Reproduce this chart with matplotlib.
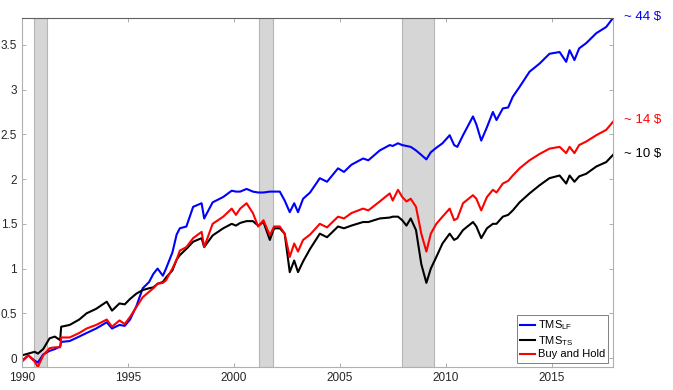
import matplotlib
matplotlib.use("Agg")
import matplotlib.pyplot as plt
from matplotlib.ticker import FuncFormatter

# decimal years
dates = [1990.0, 1990.3, 1990.6, 1990.75, 1991.0, 1991.3, 1991.55, 1991.8, 1991.85, 1992.25,
         1992.7, 1993.05, 1993.5, 1994.0, 1994.25, 1994.6, 1994.85, 1995.1, 1995.4, 1995.7,
         1996.0, 1996.2, 1996.4, 1996.65, 1996.8, 1997.1, 1997.3, 1997.45, 1997.76, 1998.08,
         1998.48, 1998.6, 1999.0, 1999.5, 1999.9, 2000.1, 2000.3, 2000.6, 2000.9, 2001.15,
         2001.4, 2001.7, 2001.9, 2002.17, 2002.4, 2002.64, 2002.85, 2003.03, 2003.27, 2003.6,
         2004.06, 2004.4, 2004.92, 2005.2, 2005.55, 2006.1, 2006.35, 2006.89, 2007.36, 2007.5,
         2007.75, 2007.95, 2008.15, 2008.35, 2008.6, 2008.85, 2009.09, 2009.3, 2009.56, 2009.85,
         2010.19, 2010.4, 2010.55, 2010.82, 2011.29, 2011.45, 2011.68, 2011.95, 2012.23, 2012.4,
         2012.7, 2012.95, 2013.17, 2013.49, 2013.96, 2014.43, 2014.9, 2015.38, 2015.69, 2015.85,
         2016.08, 2016.3, 2016.64, 2017.11, 2017.58, 2017.9]

tms_lf = [-0.03, 0.03, -0.03, -0.05, 0.04, 0.08, 0.10, 0.13, 0.18, 0.19,
          0.24, 0.28, 0.33, 0.40, 0.33, 0.37, 0.36, 0.43, 0.58, 0.78,
          0.85, 0.94, 1.00, 0.92, 1.00, 1.18, 1.38, 1.45, 1.47, 1.69,
          1.73, 1.56, 1.74, 1.80, 1.87, 1.86, 1.86, 1.89, 1.86, 1.85,
          1.85, 1.86, 1.86, 1.86, 1.76, 1.63, 1.73, 1.63, 1.78, 1.85,
          2.01, 1.97, 2.12, 2.08, 2.16, 2.23, 2.21, 2.32, 2.38, 2.37,
          2.40, 2.38, 2.37, 2.36, 2.32, 2.27, 2.22, 2.30, 2.35, 2.40,
          2.49, 2.38, 2.36, 2.49, 2.70, 2.61, 2.43, 2.58, 2.75, 2.66,
          2.79, 2.80, 2.92, 3.03, 3.20, 3.29, 3.40, 3.42, 3.31, 3.44,
          3.33, 3.46, 3.52, 3.63, 3.70, 3.80]

tms_ts = [0.03, 0.05, 0.07, 0.05, 0.10, 0.22, 0.24, 0.20, 0.35, 0.37,
          0.43, 0.50, 0.55, 0.63, 0.53, 0.61, 0.60, 0.66, 0.72, 0.76,
          0.78, 0.79, 0.83, 0.85, 0.90, 0.98, 1.10, 1.15, 1.22, 1.30,
          1.34, 1.24, 1.37, 1.45, 1.50, 1.48, 1.51, 1.53, 1.53, 1.48,
          1.52, 1.32, 1.45, 1.45, 1.39, 0.96, 1.09, 0.96, 1.08, 1.22,
          1.39, 1.35, 1.47, 1.45, 1.48, 1.52, 1.52, 1.56, 1.57, 1.58,
          1.58, 1.54, 1.48, 1.56, 1.43, 1.05, 0.84, 1.00, 1.13, 1.28,
          1.39, 1.32, 1.34, 1.43, 1.52, 1.47, 1.34, 1.45, 1.50, 1.50,
          1.58, 1.60, 1.65, 1.74, 1.84, 1.93, 2.01, 2.04, 1.95, 2.04,
          1.97, 2.03, 2.06, 2.14, 2.19, 2.27]

buy_hold = [-0.04, 0.03, -0.04, -0.10, 0.03, 0.11, 0.12, 0.12, 0.23, 0.23,
            0.28, 0.33, 0.37, 0.43, 0.35, 0.42, 0.38, 0.46, 0.57, 0.68,
            0.74, 0.78, 0.83, 0.84, 0.87, 1.00, 1.10, 1.20, 1.24, 1.34,
            1.41, 1.24, 1.50, 1.58, 1.67, 1.60, 1.67, 1.73, 1.62, 1.47,
            1.54, 1.37, 1.47, 1.47, 1.39, 1.13, 1.28, 1.19, 1.32, 1.38,
            1.50, 1.46, 1.58, 1.56, 1.62, 1.67, 1.65, 1.75, 1.84, 1.76,
            1.88, 1.80, 1.75, 1.78, 1.69, 1.39, 1.19, 1.39, 1.50, 1.58,
            1.67, 1.54, 1.56, 1.73, 1.82, 1.78, 1.65, 1.80, 1.88, 1.85,
            1.95, 1.98, 2.04, 2.12, 2.21, 2.28, 2.34, 2.36, 2.29, 2.36,
            2.29, 2.38, 2.42, 2.49, 2.55, 2.64]

recessions = [(1990.58, 1991.17), (2001.2, 2001.83), (2007.95, 2009.45)]
end_labels = ['~ 44 $', '~ 14 $', '~ 10 $']

plt.rcParams['font.family'] = ['Liberation Sans', 'DejaVu Sans']
plt.rcParams['font.size'] = 8.5
plt.rcParams['mathtext.fontset'] = 'custom'
plt.rcParams['mathtext.rm'] = 'Liberation Sans'
plt.rcParams['mathtext.it'] = 'Liberation Sans:italic'

fig = plt.figure(figsize=(6.73, 3.90), dpi=100)
ax = fig.add_axes([22 / 673, 23 / 390, 591 / 673, 349 / 390])

for start, end in recessions:
    ax.axvspan(start, end, facecolor='#d6d6d6', edgecolor='#b5b5b5', linewidth=0.8, zorder=0)

ax.plot(dates, tms_lf, color='#0000ff', linewidth=1.5, label='TMS$_{\\mathrm{LF}}$')
ax.plot(dates, tms_ts, color='black', linewidth=1.5, label='TMS$_{\\mathrm{TS}}$')
ax.plot(dates, buy_hold, color='#ff0000', linewidth=1.5, label='Buy and Hold')

# final-value annotations on the right
for series, text, col in zip([tms_lf, buy_hold, tms_ts], end_labels, ['#0000ff', '#ff0000', 'black']):
    ax.annotate(text, xy=(dates[-1], series[-1]), xytext=(8, 1), textcoords='offset points',
                color=col, fontsize=9.5, va='center', ha='left', annotation_clip=False)

ax.set_xlim(1990, 2017.9)
ax.set_ylim(-0.1, 3.8)
ax.set_xticks([1990, 1995, 2000, 2005, 2010, 2015])
ax.set_yticks([0, 0.5, 1, 1.5, 2, 2.5, 3, 3.5])
ax.yaxis.set_major_formatter(FuncFormatter(lambda v, p: '%g' % v))

ax.tick_params(direction='in', length=3, width=0.6, colors='#a0a0a0', labelcolor='#262626',
               top=True, right=True)
for side in ['left', 'bottom', 'right']:
    ax.spines[side].set_color('#b0b0b0')
ax.spines['top'].set_color('#606060')
for s in ax.spines.values():
    s.set_linewidth(0.8)

leg = ax.legend(loc='lower right', fontsize=8, handlelength=1.4, handletextpad=0.2,
                labelspacing=0.15, borderpad=0.3, borderaxespad=0.0, fancybox=False,
                framealpha=1, bbox_to_anchor=(0.992, 0.012))
leg.get_frame().set_edgecolor('#808080')
leg.get_frame().set_linewidth(0.7)

fig.savefig('out.png', dpi=100)
